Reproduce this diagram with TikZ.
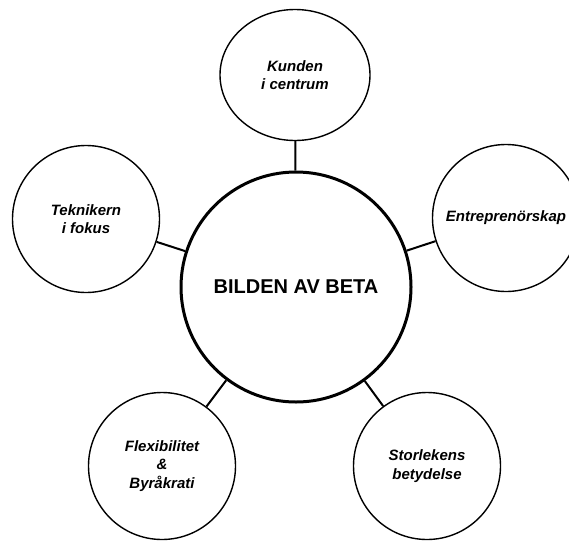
\documentclass[tikz,border=0pt]{standalone}
\usepackage{fontspec}
\setmainfont{Liberation Sans}
\usetikzlibrary{shapes.geometric}
\begin{document}
\begin{tikzpicture}[x=1pt,y=-1pt,
  topic/.style={circle,draw,line width=1.4pt,minimum size=147pt,inner sep=0pt,
    align=center,font=\bfseries\itshape\fontsize{15}{18.7}\selectfont},
  core/.style={circle,draw,line width=3pt,minimum size=230pt,inner sep=0pt,
    font=\bfseries\fontsize{20}{24}\selectfont},
  link/.style={line width=2pt}]
  \useasboundingbox (0,0) rectangle (569,541);
  \node[core] (beta) at (296,287) {BILDEN AV BETA};
  \node[topic,ellipse,minimum width=150pt,minimum height=131pt] (kund) at (295,75) {Kunden\\i centrum};
  \node[topic] (entr) at (506,218) {Entreprenörskap};
  \node[topic] (tekn) at (86,219) {Teknikern\\i fokus};
  \node[topic] (flex) at (162,466) {Flexibilitet\\\&\\Byråkrati};
  \node[topic] (stor) at (427,466) {Storlekens\\betydelse};
  \draw[link] (beta) -- (kund);
  \draw[link] (beta) -- (entr);
  \draw[link] (beta) -- (tekn);
  \draw[link] (beta) -- (flex);
  \draw[link] (beta) -- (stor);
\end{tikzpicture}
\end{document}
